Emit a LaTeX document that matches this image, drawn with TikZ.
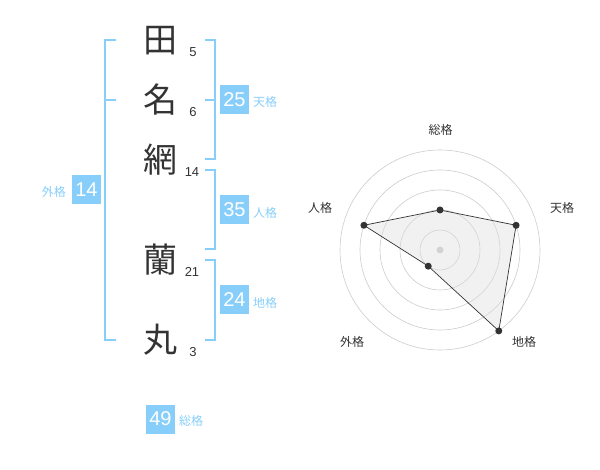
\documentclass[tikz,border=0pt]{standalone}
\usepackage{fontspec}
\setmainfont{Liberation Sans}
\newfontfamily\cjk{Noto Sans CJK JP}
\definecolor{sky}{HTML}{87CEFA}
\definecolor{ink}{HTML}{333333}
\definecolor{ring}{HTML}{CCCCCC}
\definecolor{polyfill}{HTML}{DDDDDD}
\tikzset{
  kanji/.style={inner sep=0pt, text=ink, font=\cjk\fontsize{34}{34}\selectfont},
  strokes/.style={inner sep=0pt, text=ink, font=\fontsize{13}{13}\selectfont},
  valbox/.style={fill=sky, text=white, minimum width=29pt, minimum height=29pt, inner sep=0pt, font=\fontsize{20}{20}\selectfont},
  kakulabel/.style={inner sep=0pt, text=sky, font=\cjk\fontsize{12}{12}\selectfont},
  bracket/.style={draw=sky, line width=1.6pt},
  ringline/.style={draw=ring, line width=0.6pt},
  radarlabel/.style={inner sep=0pt, text=ink, font=\cjk\fontsize{12}{12}\selectfont},
  poly/.style={draw=ink, line width=0.7pt, fill=polyfill, fill opacity=0.4},
  dot/.style={circle, fill=ink, inner sep=0pt, minimum size=7pt},
}
\begin{document}
\begin{tikzpicture}[x=1pt,y=-1pt]
\useasboundingbox (0,0) rectangle (600,470);
% characters
\node[kanji] (c1) at (160,41) {田};
\node[kanji] (c2) at (160,100) {名};
\node[kanji] (c3) at (160,160) {網};
\node[kanji] (c4) at (160,260) {蘭};
\node[kanji] (c5) at (160,340) {丸};
% stroke counts
\node[strokes] (n1) at (193,52) {5};
\node[strokes] (n2) at (193,112) {6};
\node[strokes] (n3) at (192,172) {14};
\node[strokes] (n4) at (192,272) {21};
\node[strokes] (n5) at (193,352) {3};
% brackets
\draw[bracket] (116,40) -- (105,40) -- (105,340) -- (116,340);
\draw[bracket] (105,100) -- (116,100);
\draw[bracket] (205,40) -- (215,40) -- (215,159) -- (205,159);
\draw[bracket] (205,100) -- (215,100);
\draw[bracket] (205,170) -- (215,170) -- (215,249) -- (205,249);
\draw[bracket] (205,260) -- (215,260) -- (215,340) -- (205,340);
% value boxes
\node[valbox] (ten) at (234.5,100) {25};
\node[kakulabel, anchor=west] (tenl) at (253,102) {天格};
\node[valbox] (jin) at (234.5,210) {35};
\node[kakulabel, anchor=west] (jinl) at (253,213) {人格};
\node[valbox] (chi) at (234.5,300) {24};
\node[kakulabel, anchor=west] (chil) at (253,303) {地格};
\node[valbox] (gai) at (86.5,190) {14};
\node[kakulabel, anchor=east] (gail) at (66,192) {外格};
\node[valbox] (sou) at (160.5,419) {49};
\node[kakulabel, anchor=west] (soul) at (179,421) {総格};
% radar chart
\begin{scope}[shift={(440,250)}]
  \foreach \r in {20,40,60,80,100} \draw[ringline] (0,0) circle[radius=\r];
  \fill[ring] (0,0) circle[radius=3.5];
  \coordinate (pS) at (-90:40);
  \coordinate (pT) at (-18:80);
  \coordinate (pC) at (54:100);
  \coordinate (pG) at (126:20);
  \coordinate (pJ) at (198:80);
  \draw[poly] (pS) -- (pT) -- (pC) -- (pG) -- (pJ) -- cycle;
  \foreach \p in {pS,pT,pC,pG,pJ} \node[dot] (d\p) at (\p) {};
  \node[radarlabel] (lS) at (0.7,-120) {総格};
  \node[radarlabel] (lT) at (122,-42) {天格};
  \node[radarlabel] (lC) at (84,92) {地格};
  \node[radarlabel] (lG) at (-88,92) {外格};
  \node[radarlabel] (lJ) at (-120,-42) {人格};
\end{scope}
\end{tikzpicture}
\end{document}
